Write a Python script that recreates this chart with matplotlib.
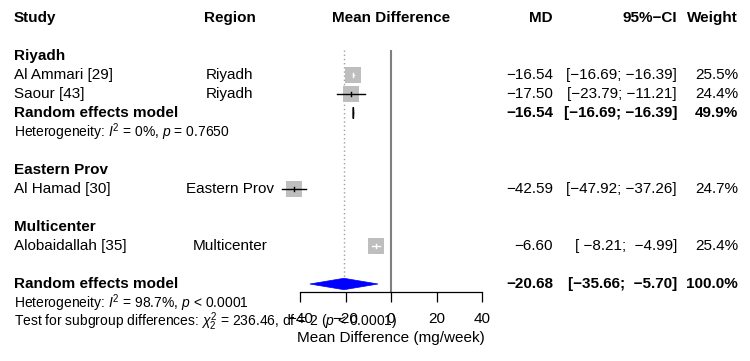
"""
Forest plot of mean difference (mg/week) by region, random effects model.
Saves out.png (750x361).
"""

import matplotlib.pyplot as plt
from matplotlib.patches import Polygon
from matplotlib.transforms import blended_transform_factory

# ---- data ---------------------------------------------------------------
groups = ["Riyadh", "Eastern Prov", "Multicenter"]
studies = ["Al Ammari [29]", "Saour [43]", "Al Hamad [30]", "Alobaidallah [35]"]
regions = ["Riyadh", "Riyadh", "Eastern Prov", "Multicenter"]
md = [-16.54, -17.50, -42.59, -6.60]
ci_lo = [-16.69, -23.79, -47.92, -8.21]
ci_hi = [-16.39, -11.21, -37.26, -4.99]
weights = [25.5, 24.4, 24.7, 25.4]

# subgroup pooled result (only Riyadh has >1 study)
sub_md = -16.54
sub_lo = -16.69
sub_hi = -16.39
sub_weight = 49.9
sub_het = r"Heterogeneity: $I^2$ = 0%, $p$ = 0.7650"

# overall pooled result
re_md = -20.68
re_lo = -35.66
re_hi = -5.70
re_weight = 100.0
re_het = r"Heterogeneity: $I^2$ = 98.7%, $p$ < 0.0001"
subgroup_test = r"Test for subgroup differences: $\chi^2_2$ = 236.46, df = 2 ($p$ < 0.0001)"

xticks = [-40, -20, 0, 20, 40]

# ---- style --------------------------------------------------------------
plt.rcParams["font.family"] = ["Liberation Sans", "DejaVu Sans"]
plt.rcParams["mathtext.fontset"] = "custom"
plt.rcParams["mathtext.rm"] = "Liberation Sans"
plt.rcParams["mathtext.it"] = "Liberation Sans:italic"
plt.rcParams["mathtext.bf"] = "Liberation Sans:bold"
plt.rcParams["axes.unicode_minus"] = True

FS = 11
FS_SMALL = 10
SQ_GRAY = "#BEBEBE"
LINE_GRAY = "#7F7F7F"


def fmt(v):
    return f"{v:.2f}".replace("-", "\u2212")


def fmt_ci(lo, hi):
    a = fmt(lo)
    b = fmt(hi)
    if len(a) < 6:
        a = " " + a
    if len(b) < 6:
        b = " " + b
    return f"[{a}; {b}]"


def main():
    fig = plt.figure(figsize=(7.5, 3.61), dpi=100)
    # forest panel: x -40..40 spans pixels 300..482, bottom at pixel 292
    ax = fig.add_axes([300 / 750, 1 - 292 / 361, 182 / 750, 292 / 361])
    row_h = 19.0
    top_row = -18.0 / row_h
    bottom_row = (292 - 18) / row_h
    ax.set_xlim(-40, 40)
    ax.set_ylim(bottom_row, top_row)
    for s in ["top", "left", "right"]:
        ax.spines[s].set_visible(False)
    ax.set_yticks([])
    ax.set_xticks(xticks)
    ax.tick_params(axis="x", direction="out", length=7.2, width=0.9, labelsize=FS, pad=7)
    ax.spines["bottom"].set_linewidth(0.9)
    ax.set_xlabel("Mean Difference (mg/week)", fontsize=FS, labelpad=4)

    tr = blended_transform_factory(fig.transFigure, ax.transData)
    x_study = 14 / 750
    x_region = 230 / 750
    x_md = 553 / 750
    x_ci = 677 / 750
    x_w = 738 / 750

    def put(x, y, s, ha="left", bold=False, size=FS):
        ax.text(x, y, s, transform=tr, ha=ha, va="center", fontsize=size,
                fontweight="bold" if bold else "normal", clip_on=False)

    # header
    put(x_study, 0, "Study", bold=True)
    put(x_region, 0, "Region", ha="center", bold=True)
    ax.text(0, 0, "Mean Difference", ha="center", va="center", fontsize=FS,
            fontweight="bold", clip_on=False)
    put(x_md, 0, "MD", ha="right", bold=True)
    put(x_ci, 0, "95%\u2212CI", ha="right", bold=True)
    put(x_w, 0, "Weight", ha="right", bold=True)

    # study rows
    study_rows = [3, 4, 9, 12]
    group_rows = [2, 8, 11]
    for g, r in zip(groups, group_rows):
        put(x_study, r, g, bold=True)

    px_per_unit = 182 / 80
    for i, r in enumerate(study_rows):
        put(x_study, r, studies[i])
        put(x_region, r, regions[i], ha="center")
        put(x_md, r, fmt(md[i]), ha="right")
        put(x_ci, r, fmt_ci(ci_lo[i], ci_hi[i]), ha="right")
        put(x_w, r, f"{weights[i]:.1f}%", ha="right")

        side = 3.15 * weights[i] ** 0.5  # pixels
        ax.plot(md[i], r, marker="s", markersize=side * 0.72, color=SQ_GRAY,
                markeredgewidth=0, zorder=3, clip_on=False)
        # CI line drawn white when it fits inside the square
        inside = (ci_hi[i] - ci_lo[i]) * px_per_unit < side
        col = "white" if inside else "black"
        ax.plot([ci_lo[i], ci_hi[i]], [r, r], color=col, lw=1.0, zorder=4, clip_on=False)
        ax.plot([md[i], md[i]], [r - 0.12, r + 0.12], color=col, lw=1.0, zorder=4,
                clip_on=False)

    # Riyadh subgroup summary
    r = 5
    put(x_study, r, "Random effects model", bold=True)
    put(x_md, r, fmt(sub_md), ha="right", bold=True)
    put(x_ci, r, fmt_ci(sub_lo, sub_hi), ha="right", bold=True)
    put(x_w, r, f"{sub_weight:.1f}%", ha="right", bold=True)
    ax.add_patch(Polygon([(sub_lo, r), (sub_md, r - 0.3), (sub_hi, r), (sub_md, r + 0.3)],
                         closed=True, facecolor=SQ_GRAY, edgecolor="black", lw=1.0, zorder=4))
    put(x_study, 6, sub_het, size=FS_SMALL)

    # overall summary
    r = 14
    put(x_study, r, "Random effects model", bold=True)
    put(x_md, r, fmt(re_md), ha="right", bold=True)
    put(x_ci, r, fmt_ci(re_lo, re_hi), ha="right", bold=True)
    put(x_w, r, f"{re_weight:.1f}%", ha="right", bold=True)
    ax.add_patch(Polygon([(re_lo, r), (re_md, r - 0.3), (re_hi, r), (re_md, r + 0.3)],
                         closed=True, facecolor="#0000FF", edgecolor="#0000FF", lw=0.5, zorder=4))
    put(x_study, 15, re_het, size=FS_SMALL)
    put(x_study, 16, subgroup_test, size=FS_SMALL)

    # reference lines
    ax.vlines(0, 1.68, bottom_row, color=LINE_GRAY, lw=1.5, zorder=2, clip_on=False)
    ax.vlines(re_md, 1.68, 14 - 0.3, color="#A0A0A0", lw=1.0, linestyles=(0, (1, 2)), zorder=1)

    fig.savefig("out.png", dpi=100)
    plt.close(fig)


if __name__ == "__main__":
    main()
